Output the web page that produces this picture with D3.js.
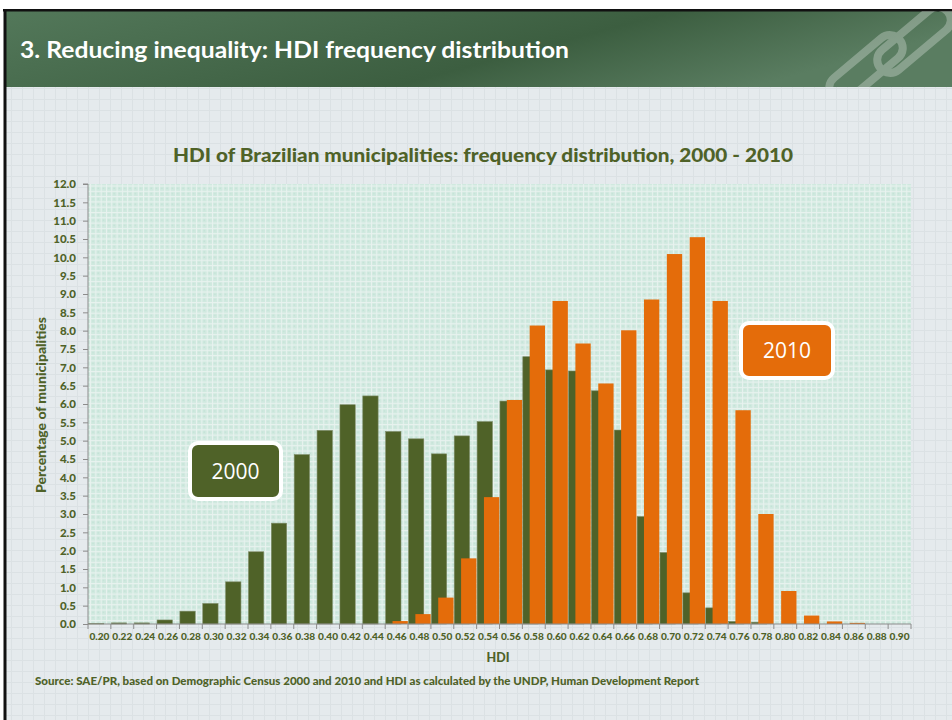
<!DOCTYPE html>
<html><head><meta charset="utf-8">
<script src="https://cdn.jsdelivr.net/npm/d3@7/dist/d3.min.js"></script>
<style>html,body{margin:0;padding:0;background:#fff;}svg{display:block;}</style>
</head><body>
<script>
const categories = ["0.20","0.22","0.24","0.26","0.28","0.30","0.32","0.34","0.36","0.38","0.40","0.42","0.44","0.46","0.48","0.50","0.52","0.54","0.56","0.58","0.60","0.62","0.64","0.66","0.68","0.70","0.72","0.74","0.76","0.78","0.80","0.82","0.84","0.86","0.88","0.90"];
const values2000 = [0.01,0.03,0.03,0.11,0.35,0.56,1.15,1.97,2.75,4.62,5.28,5.98,6.22,5.25,5.05,4.64,5.13,5.52,6.08,7.29,6.93,6.90,6.36,5.29,2.93,1.95,0.85,0.44,0.07,0.05,0,0,0,0,0,0];
const values2010 = [0,0,0,0,0,0,0,0,0,0,0,0,0,0.08,0.27,0.72,1.79,3.46,6.11,8.14,8.81,7.65,6.56,8.01,8.85,10.09,10.55,8.81,5.83,3.00,0.90,0.23,0.07,0.03,0,0];
const yTicks = d3.range(0, 12.0001, 0.5);
const seriesNames = ["2000","2010"];
const headerTitle = "3. Reducing inequality: HDI frequency distribution";
const chartTitle = "HDI of Brazilian municipalities: frequency distribution, 2000 - 2010";
const yTitle = "Percentage of municipalities";
const xTitle = "HDI";
const sourceText = "Source: SAE/PR, based on Demographic Census 2000 and 2010 and HDI as calculated  by the UNDP, Human Development Report";

const W = 952, H = 720;
const olive = "#4f6228", orange = "#e46c0a", textCol = "#4f6228";
const font = "Lato, 'Open Sans', sans-serif";

const svg = d3.select("body").append("svg").attr("width", W).attr("height", H);
const defs = svg.append("defs");

const bgp = defs.append("pattern").attr("id","bggrid").attr("width",11).attr("height",11).attr("patternUnits","userSpaceOnUse");
bgp.append("rect").attr("width",11).attr("height",11).attr("fill","#e5eaed");
bgp.append("path").attr("d","M0,0.5H11M0.5,0V11").attr("stroke","#dbe1e4").attr("stroke-width",1);

const pp = defs.append("pattern").attr("id","plotpat").attr("width",5.3).attr("height",5.3).attr("patternUnits","userSpaceOnUse");
pp.append("rect").attr("width",5.3).attr("height",5.3).attr("fill","#d0e9df");
pp.append("path").attr("d","M0,0.5H5.3M0.5,0V5.3").attr("stroke","#e8f2ef").attr("stroke-width",1);
pp.append("rect").attr("x",2.3).attr("y",2.3).attr("width",1).attr("height",1).attr("fill","#b9ddd0");

const hg = defs.append("linearGradient").attr("id","hdr").attr("x1","0").attr("x2","1").attr("y1","0").attr("y2","0.3");
hg.append("stop").attr("offset","0%").attr("stop-color","#53785a");
hg.append("stop").attr("offset","65%").attr("stop-color","#3c5e40");
hg.append("stop").attr("offset","100%").attr("stop-color","#5a7d61");

defs.append("clipPath").attr("id","hdrclip").append("rect").attr("x",5).attr("y",11).attr("width",W-5).attr("height",76);

svg.append("rect").attr("x",0).attr("y",0).attr("width",W).attr("height",H).attr("fill","#fff");
svg.append("rect").attr("x",5).attr("y",10).attr("width",W-5).attr("height",H-10).attr("fill","url(#bggrid)");
svg.append("rect").attr("x",5).attr("y",11).attr("width",W-5).attr("height",76).attr("fill","url(#hdr)");
svg.append("line").attr("x1",3).attr("x2",W).attr("y1",10.3).attr("y2",10.3).attr("stroke","#111").attr("stroke-width",2.5);
svg.append("line").attr("x1",5).attr("x2",5).attr("y1",9).attr("y2",H).attr("stroke","#111").attr("stroke-width",3);

// logo (chain links)
const logo = svg.append("g").attr("clip-path","url(#hdrclip)").attr("opacity",0.28).attr("fill","none").attr("stroke","#ffffff").attr("stroke-width",8).attr("stroke-linecap","round");
logo.append("rect").attr("x",-44).attr("y",-13).attr("width",88).attr("height",26).attr("rx",13)
  .attr("transform","translate(914,40) rotate(-40)");
logo.append("rect").attr("x",-44).attr("y",-13).attr("width",88).attr("height",26).attr("rx",13)
  .attr("transform","translate(866,68) rotate(-40)");

svg.append("text").attr("x",20).attr("y",58).attr("fill","#fff").attr("font-family",font)
  .attr("font-weight","bold").attr("font-size",23).attr("textLength",549).attr("lengthAdjust","spacingAndGlyphs")
  .text(headerTitle);

const plot = {left: 88, right: 911, top: 184, bottom: 624};
const x = d3.scaleBand().domain(categories).range([plot.left, plot.right]).paddingInner(0).paddingOuter(0);
const y = d3.scaleLinear().domain([0, 12]).range([plot.bottom, plot.top]);
const bw = x.bandwidth();

svg.append("rect").attr("x",plot.left).attr("y",plot.top).attr("width",plot.right-plot.left).attr("height",plot.bottom-plot.top).attr("fill","url(#plotpat)");

svg.append("g").selectAll("rect").data(categories.map((c,i)=>({c, v: values2000[i]})).filter(d=>d.v>0))
  .join("rect")
  .attr("x", d => x(d.c) + bw*0.02)
  .attr("width", bw*0.67)
  .attr("y", d => y(d.v))
  .attr("height", d => y(0) - y(d.v))
  .attr("fill", olive).attr("stroke","#7d8b67").attr("stroke-width",0.6);

svg.append("g").selectAll("rect").data(categories.map((c,i)=>({c, v: values2010[i]})).filter(d=>d.v>0))
  .join("rect")
  .attr("x", d => x(d.c) + bw*0.32)
  .attr("width", bw*0.67)
  .attr("y", d => y(d.v))
  .attr("height", d => y(0) - y(d.v))
  .attr("fill", orange);

const yAxis = d3.axisLeft(y).tickValues(yTicks).tickFormat(d3.format(".1f")).tickSize(5).tickPadding(7);
const yg = svg.append("g").attr("transform",`translate(${plot.left},0)`).call(yAxis);
yg.select(".domain").attr("stroke","#8c8c8c").attr("d",`M-5,${plot.top}H0V${plot.bottom}`);
yg.selectAll(".tick line").attr("stroke","#8c8c8c");
yg.selectAll(".tick text").attr("fill",textCol).attr("font-family",font).attr("font-weight","900").attr("font-size",11.5);

const xAxis = d3.axisBottom(x).tickSize(0).tickPadding(9);
const xg = svg.append("g").attr("transform",`translate(0,${plot.bottom})`).call(xAxis);
xg.select(".domain").attr("stroke","#8c8c8c").attr("d",`M${plot.left},0H${plot.right}`);
xg.selectAll(".tick text").attr("fill",textCol).attr("font-family",font).attr("font-weight","900").attr("font-size",10)
  .attr("textLength",20).attr("lengthAdjust","spacingAndGlyphs");
xg.append("g").selectAll("line").data(categories.concat(["end"])).join("line")
  .attr("x1",(d,i)=> i<categories.length ? x(d) : x(categories[categories.length-1])+bw)
  .attr("x2",(d,i)=> i<categories.length ? x(d) : x(categories[categories.length-1])+bw)
  .attr("y1",0).attr("y2",5).attr("stroke","#8c8c8c");

svg.append("text").attr("x",483).attr("y",162).attr("text-anchor","middle").attr("fill",textCol)
  .attr("font-family",font).attr("font-weight","900").attr("font-size",19.5)
  .attr("textLength",620).attr("lengthAdjust","spacingAndGlyphs").text(chartTitle);
svg.append("text").attr("transform","translate(46,405) rotate(-90)").attr("text-anchor","middle").attr("fill",textCol)
  .attr("font-family",font).attr("font-weight","900").attr("font-size",12.5)
  .attr("textLength",176).attr("lengthAdjust","spacingAndGlyphs").text(yTitle);
svg.append("text").attr("x",498).attr("y",662).attr("text-anchor","middle").attr("fill",textCol)
  .attr("font-family",font).attr("font-weight","900").attr("font-size",12.5).text(xTitle);
svg.append("text").attr("x",35).attr("y",685).attr("fill",textCol)
  .attr("font-family",font).attr("font-weight","900").attr("font-size",10.5)
  .attr("textLength",664).attr("lengthAdjust","spacingAndGlyphs").text(sourceText);

const legend = [
  {name: seriesNames[0], col: olive, x0: 190, y0: 443, w: 91, h: 56},
  {name: seriesNames[1], col: orange, x0: 741, y0: 323, w: 92, h: 55}
];
const lg = svg.append("g").selectAll("g").data(legend).join("g");
lg.append("rect").attr("x",d=>d.x0).attr("y",d=>d.y0).attr("width",d=>d.w).attr("height",d=>d.h)
  .attr("rx",8).attr("fill",d=>d.col).attr("stroke","#fff").attr("stroke-width",4);
lg.append("text").attr("x",d=>d.x0+d.w/2).attr("y",d=>d.y0+d.h/2+7.5).attr("text-anchor","middle")
  .attr("fill","#fff").attr("font-family","'Open Sans', sans-serif").attr("font-size",21).text(d=>d.name);
</script>
</body></html>
